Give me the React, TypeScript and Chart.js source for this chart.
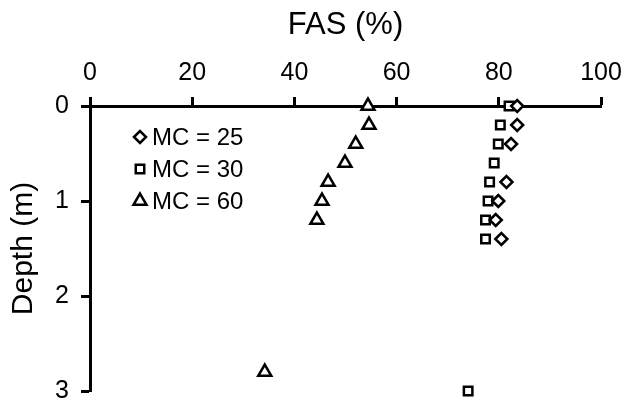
import React, { useEffect, useRef } from 'react';
import { Chart, registerables } from 'chart.js';
import { drawPoint } from 'chart.js/helpers';

Chart.register(...registerables);

// FAS (%) versus depth (m) for three MC levels
const depthMC25 = [0, 0.2, 0.4, 0.8, 1.0, 1.2, 1.4];
const fasMC25 = [83.6, 83.6, 82.4, 81.5, 79.9, 79.4, 80.5];

const depthMC30 = [0, 0.2, 0.4, 0.6, 0.8, 1.0, 1.2, 1.4, 3.0];
const fasMC30 = [82.0, 80.3, 79.9, 79.1, 78.2, 77.9, 77.4, 77.4, 74.0];

const depthMC60 = [0, 0.2, 0.4, 0.6, 0.8, 1.0, 1.2, 2.8];
const fasMC60 = [54.4, 54.6, 52.0, 49.9, 46.6, 45.4, 44.4, 34.2];

const seriesLabels = ['MC = 25', 'MC = 30', 'MC = 60'];
const xTickValues = [0, 20, 40, 60, 80, 100];
const yTickValues = [0, 1, 2, 3];
const xTitle = 'FAS (%)';
const yTitle = 'Depth (m)';

const FONT = "'Liberation Sans', Arial, sans-serif";

const toPoints = (xs: number[], ys: number[]) => xs.map((x, i) => ({ x, y: ys[i] }));

const insideLegend = {
  id: 'insideLegend',
  afterDatasetsDraw(chart: any) {
    const { ctx, chartArea } = chart;
    ctx.save();
    chart.data.datasets.forEach((ds: any, i: number) => {
      const mx = chartArea.left + 50;
      const my = chartArea.top + 31 + i * 32;
      ctx.fillStyle = '#ffffff';
      ctx.strokeStyle = '#000000';
      ctx.lineWidth = 2.5;
      drawPoint(ctx, { pointStyle: ds.pointStyle, radius: ds.pointRadius, borderWidth: 2.5, rotation: 0 } as any, mx, my);
      ctx.fillStyle = '#000000';
      ctx.font = `24px ${FONT}`;
      ctx.textAlign = 'left';
      ctx.textBaseline = 'middle';
      ctx.fillText(ds.label, mx + 12, my + 1);
    });
    ctx.restore();
  },
};

const zeroPad = (s: any) => {
  s.paddingLeft = 0;
  s.paddingRight = 0;
  s.paddingTop = 0;
  s.paddingBottom = 0;
};

export default function App() {
  const canvasRef = useRef<HTMLCanvasElement | null>(null);

  useEffect(() => {
    const canvas = canvasRef.current;
    if (!canvas) return;
    const common = {
      backgroundColor: '#ffffff',
      borderColor: '#000000',
      borderWidth: 2.5,
      clip: false as any,
    };
    const chart = new Chart(canvas, {
      type: 'scatter',
      data: {
        datasets: [
          { ...common, label: seriesLabels[0], data: toPoints(fasMC25, depthMC25), pointStyle: 'rectRot', pointRadius: 6 },
          { ...common, label: seriesLabels[1], data: toPoints(fasMC30, depthMC30), pointStyle: 'rect', pointRadius: 6 },
          { ...common, label: seriesLabels[2], data: toPoints(fasMC60, depthMC60), pointStyle: 'triangle', pointRadius: 7.5 },
        ],
      },
      options: {
        animation: false,
        responsive: false,
        devicePixelRatio: 1,
        layout: { padding: { left: 0, top: 0, right: 24, bottom: 18 } },
        plugins: { legend: { display: false }, tooltip: { enabled: false } },
        scales: {
          x: {
            type: 'linear',
            position: 'top',
            min: 0,
            max: 100,
            afterBuildTicks: (s: any) => { s.ticks = xTickValues.map((v) => ({ value: v })); },
            afterFit: (s: any) => { s.height = 106; zeroPad(s); },
            ticks: { color: '#000', font: { family: FONT, size: 25 }, padding: 9 },
            grid: { display: true, drawOnChartArea: false, drawTicks: true, tickLength: 9, tickWidth: 3, tickColor: '#000', color: '#000' },
            border: { display: true, color: '#000', width: 3 },
            title: { display: true, text: xTitle, color: '#000', font: { family: FONT, size: 31 }, padding: { top: 7, bottom: 0 } },
          },
          y: {
            type: 'linear',
            reverse: true,
            min: 0,
            max: 3,
            afterBuildTicks: (s: any) => { s.ticks = yTickValues.map((v) => ({ value: v })); },
            afterFit: (s: any) => { s.width = 90; zeroPad(s); },
            ticks: { color: '#000', font: { family: FONT, size: 25 }, padding: 12 },
            grid: { display: true, drawOnChartArea: false, drawTicks: true, tickLength: 9, tickWidth: 3, tickColor: '#000', color: '#000' },
            border: { display: true, color: '#000', width: 3 },
            title: { display: true, text: yTitle, color: '#000', font: { family: FONT, size: 30 }, padding: { top: 6, bottom: 0 } },
          },
        },
      },
      plugins: [insideLegend],
    });
    return () => chart.destroy();
  }, []);

  return (
    <div style={{ position: 'fixed', left: 0, top: 0, width: 625, height: 409, background: '#fff' }}>
      <canvas ref={canvasRef} width={625} height={409} style={{ width: 625, height: 409, display: 'block' }} />
    </div>
  );
}
